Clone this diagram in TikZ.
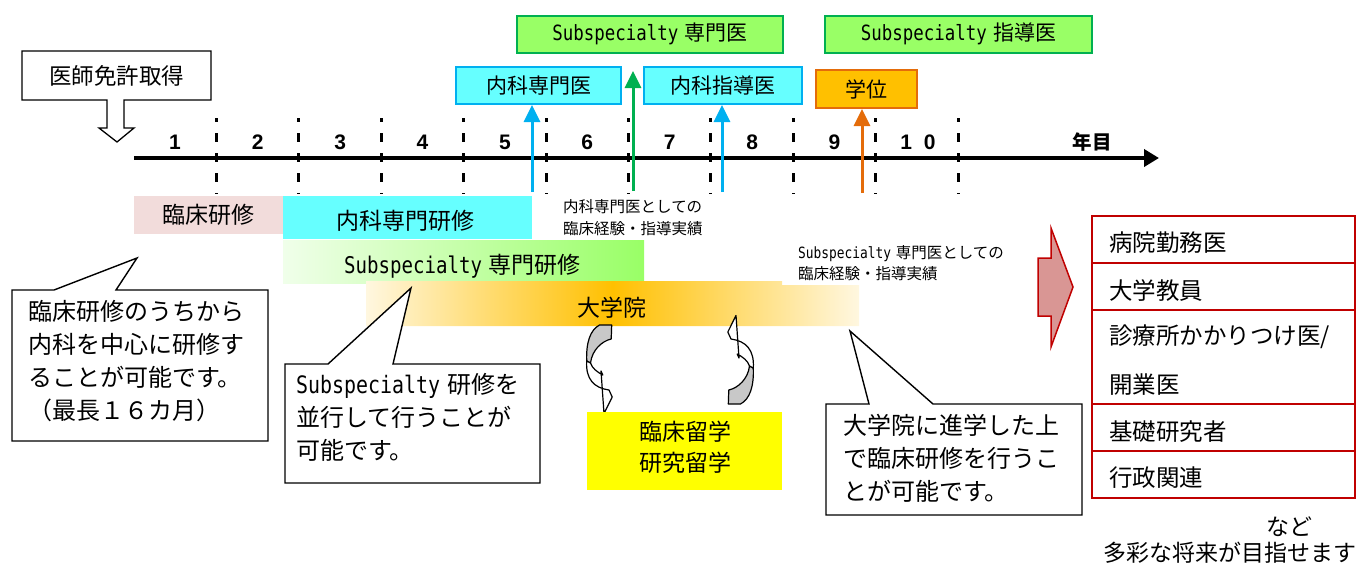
\documentclass[tikz,border=0pt]{standalone}
\usepackage{fontspec}
\setmainfont{Noto Sans CJK JP}
\newfontfamily\monof{DejaVu Sans Mono}[FakeStretch=0.83]
\newfontfamily\numf{Liberation Sans}
\usetikzlibrary{arrows.meta}
\definecolor{cyanF}{HTML}{66FFFF}
\definecolor{cyanB}{HTML}{00B0F0}
\definecolor{grnF}{HTML}{99FF66}
\definecolor{grnB}{HTML}{00B050}
\definecolor{orgF}{HTML}{FFC000}
\definecolor{orgB}{HTML}{E46C0A}
\definecolor{pinkF}{HTML}{F2DCDB}
\definecolor{grnL}{HTML}{F0FFEA}
\definecolor{orgL}{HTML}{FFF7E0}
\definecolor{redF}{HTML}{D99694}
\definecolor{redB}{HTML}{C00000}
\definecolor{grayF}{HTML}{C8C8C8}
\definecolor{yelF}{HTML}{FFFF00}
\newcommand{\fs}[1]{\fontsize{#1}{#1}\selectfont}
\newcommand{\Subsp}[1]{{\monof\fontsize{#1}{#1}\selectfont Subspecialty}\kern0.3em}
\tikzset{
  topbox/.style={draw, line width=2pt, inner sep=0pt, minimum height=37pt, font=\fs{21}},
  uparr/.style={line width=3pt, -{Triangle[width=16pt,length=17pt]}},
  callout/.style={draw=black, fill=white, line width=1.4pt, line join=miter},
  ctext/.style={align=left, inner sep=0pt, anchor=west, font=\fontsize{24}{33}\selectfont},
  bartext/.style={inner sep=0pt, font=\fs{23}},
  listrow/.style={draw=redB, line width=1.8pt},
  ltext/.style={anchor=west, inner sep=0pt, font=\fs{23.5}},
  smalltext/.style={align=left, anchor=west, inner sep=0pt, font=\fontsize{15.5}{21.5}\selectfont},
  yearnum/.style={inner sep=0pt, font=\numf\bfseries\fs{21}},
  dashline/.style={line width=3pt, dash pattern=on 9pt off 11pt, dash phase=5pt},
  curvearr/.pic={
    \filldraw[fill=grayF, draw=black, line width=1.2pt, line join=round]
      (0.5,-44) -- (12.7,-44) .. controls (12.5,-38) .. (12.2,-30)
      .. controls (3,-28) and (-7,-19) .. (-8.5,-6)
      -- (-12.3,-8) .. controls (-13,-26) and (-9,-39) .. (0.5,-44) -- cycle;
    \filldraw[fill=white, draw=black, line width=1.2pt, line join=round]
      (-12.3,-8) .. controls (-13.5,10) and (-5,19) .. (10,21) -- (13.2,28) -- (5,44.5)
      -- (2,2) -- (3.8,6) .. controls (-2,3) and (-7,-1) .. (-8.5,-6) -- cycle;
  }
}
\begin{document}
\begin{tikzpicture}[x=1pt,y=-1pt]
\useasboundingbox (0,0) rectangle (1357,566);

% license box with down arrow
\draw[fill=white, line width=1.3pt, line join=miter] (22,51) -- (211,51) -- (211,100) -- (124,100) -- (124,128)
  -- (134,128) -- (117,142) -- (99,128) -- (107,128) -- (107,100) -- (22,100) -- cycle;
\node[inner sep=0pt, font=\fs{22.5}] (lic) at (116.5,76) {医師免許取得};

% top boxes
\node[topbox, fill=grnF, draw=grnB, minimum width=266pt] (ssm) at (650,34) {\Subsp{21}専門医};
\node[topbox, fill=grnF, draw=grnB, minimum width=267pt] (ssd) at (958.5,34) {\Subsp{21}指導医};
\node[topbox, fill=cyanF, draw=cyanB, minimum width=165pt] (nsm) at (538.5,85.5) {内科専門医};
\node[topbox, fill=cyanF, draw=cyanB, minimum width=158pt] (nsd) at (723,85.5) {内科指導医};
\node[topbox, fill=orgF, draw=orgB, minimum width=101pt, minimum height=38pt] (deg) at (866.5,89) {学位};

% dashed year separators
\foreach \k in {0,...,9} {
  \draw[dashline] ({216.5+82.4*\k},118) -- ({216.5+82.4*\k},194);
}
% timeline
\coordinate (tl0) at (134,158);
\coordinate (tl1) at (1159,158);
\draw[line width=4.5pt, -{Triangle[width=17pt,length=15pt]}] (tl0) -- (tl1);
\foreach \n/\x in {1/175,2/257.7,3/340.1,4/422.5,5/504.9,6/587.3,7/669.7,8/752.1,9/834.5} {
  \node[yearnum] (y\n) at (\x,142) {\n};
}
\node[yearnum] (y10) at (918,142) {1\kern12pt 0};
\node[inner sep=0pt, font=\bfseries\fs{19.5}] (nen) at (1092,142) {年目};

% up arrows
\coordinate (a1) at (532,192);
\coordinate (a2) at (633,191);
\coordinate (a2t) at (633,71);
\coordinate (a3) at (722,192);
\coordinate (a4) at (862,193);
\draw[uparr, cyanB] (a1) -- (a1 |- nsm.south);
\draw[uparr, grnB] (a2) -- (a2t);
\draw[uparr, cyanB] (a3) -- (a3 |- nsd.south);
\draw[uparr, orgB] (a4) -- (a4 |- deg.south);

% bars
\fill[pinkF] (134,196) rectangle (283,234);
\node[bartext] (rk) at (208.5,215) {臨床研修};
\fill[cyanF] (283,196) rectangle (532,239);
\node[bartext] (nk) at (405.5,221) {内科専門研修};
\shade[left color=grnL, right color=grnF] (283,240) rectangle (644,283);
\node[bartext] (sk) at (462.5,266) {\Subsp{23}専門研修};
\shade[left color=orgL, right color=orgL, middle color=orgF]
  (366,281) -- (782,281) -- (782,285) -- (859,285) -- (859,326) -- (366,326) -- cycle;
\node[bartext] (dg) at (612,308) {大学院};

% small notes
\node[smalltext] (note1) at (563,217.5) {内科専門医としての\\臨床経験・指導実績};
\node[smalltext] (note2) at (798,263) {\Subsp{15.5}専門医としての\\臨床経験・指導実績};

% curved arrows and study abroad
\pic at (599,369) {curvearr};
\pic[rotate=180] at (741,360) {curvearr};
\fill[yelF] (587,412) rectangle (782,490);
\node[inner sep=0pt, align=center, font=\fontsize{23}{31}\selectfont] (ab) at (685,447.5) {臨床留学\\研究留学};

% callouts
\draw[callout] (12,290) -- (54,290) -- (137,258) -- (116,290) -- (268,290) -- (268,441) -- (12,441) -- cycle;
\node[ctext] (c1) at (28,361) {臨床研修のうちから\\内科を中心に研修す\\ることが可能です。\\（最長１６カ月）};
\draw[callout] (285,364) -- (328,364) -- (411,288) -- (393,364) -- (540,364) -- (540,483) -- (285,483) -- cycle;
\node[ctext] (c2) at (296,417) {\Subsp{24}研修を\\並行して行うことが\\可能です。};
\draw[callout] (826,404) -- (869,404) -- (850,331) -- (933,404) -- (1082,404) -- (1082,515) -- (826,515) -- cycle;
\node[ctext] (c3) at (843,458.5) {大学院に進学した上\\で臨床研修を行うこ\\とが可能です。};

% big red arrow
\draw[fill=redF, draw=redB, line width=1.5pt, line join=miter] (1038,258) -- (1051,258) -- (1051,228) -- (1073,287)
  -- (1051,347) -- (1051,316) -- (1038,316) -- cycle;

% career list
\draw[listrow] (1092,216) rectangle (1355,263);
\draw[listrow] (1092,263) rectangle (1355,310);
\draw[listrow] (1092,310) rectangle (1355,404);
\draw[listrow] (1092,404) rectangle (1355,451);
\draw[listrow] (1092,451) rectangle (1355,498);
\node[ltext] (l1) at (1109,243) {病院勤務医};
\node[ltext] (l2) at (1109,291) {大学教員};
\node[ltext] (l3) at (1109,337) {診療所かかりつけ医/};
\node[ltext] (l3b) at (1109,385) {開業医};
\node[ltext] (l4) at (1109,432) {基礎研究者};
\node[ltext] (l5) at (1109,478) {行政関連};
\node[inner sep=0pt, font=\fs{23}] (nado) at (1289,527) {など};
\node[inner sep=0pt, anchor=west, font=\fs{23}] (tasai) at (1103,553) {多彩な将来が目指せます};
\end{tikzpicture}
\end{document}
